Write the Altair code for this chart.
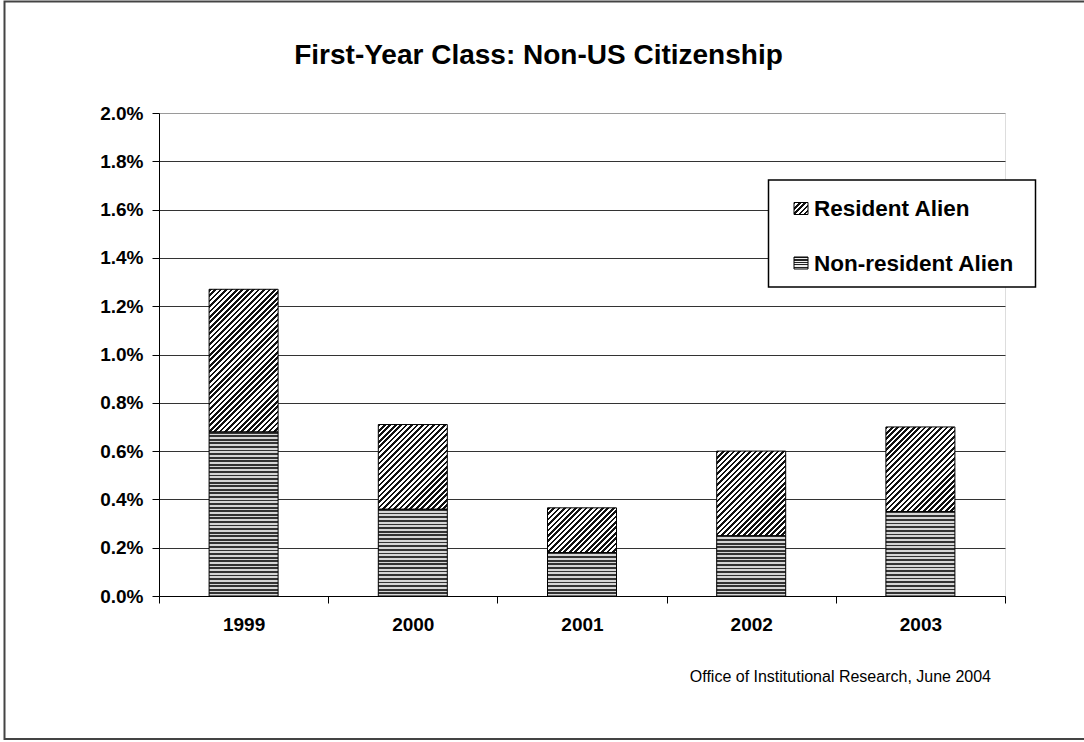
import altair as alt
import pandas as pd

# ---------------- data ----------------
years = ["1999", "2000", "2001", "2002", "2003"]
series = ["Non-resident Alien", "Resident Alien"]
nonresident = [0.68, 0.36, 0.18, 0.25, 0.35]   # percent
resident = [0.59, 0.35, 0.185, 0.35, 0.35]     # percent (stacked on top)
y_ticks = [0.0, 0.2, 0.4, 0.6, 0.8, 1.0, 1.2, 1.4, 1.6, 1.8, 2.0]
title_text = "First-Year Class: Non-US Citizenship"
source_text = "Office of Institutional Research, June 2004"

# ---------------- layout ----------------
W, H = 846, 483
LEFT, TOP = 159, 113
YMAX = 2.0
BAR = 69
FONT = "Liberation Sans"

rows = []
for i, yr in enumerate(years):
    rows.append({"year": yr, "series": series[0], "value": nonresident[i], "order": 0})
    rows.append({"year": yr, "series": series[1], "value": resident[i], "order": 1})
df = pd.DataFrame(rows)


def _stops(n, dark_frac, dark, light):
    stops = []
    for k in range(n):
        a = k / n
        b = (k + dark_frac) / n
        c = (k + 1) / n
        stops += [
            {"offset": a, "color": dark},
            {"offset": b, "color": dark},
            {"offset": b, "color": light},
            {"offset": c, "color": light},
        ]
    return stops


def hstripes(h, period=3.6, dark_frac=0.5, dark="#333333", light="#d6d6d6"):
    n = max(1, round(h / period))
    return {"gradient": "linear", "x1": 0, "y1": 0, "x2": 0, "y2": 1,
            "stops": _stops(n, dark_frac, dark, light)}


def diag(w, h, period=5.4, dark_frac=0.5, dark="#111111", light="#ffffff"):
    # "/" hatching at 45 degrees in pixel space within a bounding-box gradient
    s = (w + h) / (w * w + h * h)
    n = max(1, round((w + h) / period))
    return {"gradient": "linear", "x1": 0, "y1": 0, "x2": s * w, "y2": s * h,
            "stops": _stops(n, dark_frac, dark, light)}


x_enc = alt.X(
    "year:N",
    scale=alt.Scale(domain=years, paddingInner=0, paddingOuter=0),
    axis=alt.Axis(title=None, tickBand="extent", labelAngle=0, labelFontSize=19,
                  labelFontWeight="bold", labelFont=FONT, labelColor="black",
                  tickColor="black", tickSize=7, tickWidth=1, domainColor="black",
                  domainWidth=1, labelPadding=12, grid=False),
)
y_enc = alt.Y(
    "y0:Q",
    scale=alt.Scale(domain=[0, YMAX], nice=False),
    axis=alt.Axis(title=None, values=y_ticks,
                  labelExpr="format(datum.value, '.1f') + '%'",
                  labelFontSize=19, labelFontWeight="bold", labelFont=FONT,
                  labelColor="black", tickColor="black", tickSize=7, tickWidth=1,
                  domainColor="black", domainWidth=1, labelPadding=9,
                  grid=True, gridWidth=1,
                  gridColor={"condition": {"test": "datum.value >= 2", "value": "#9a9a9a"},
                             "value": "#333333"}),
)

base = alt.Chart(df).transform_stack(
    stack="value", groupby=["year"], as_=["y0", "y1"],
    sort=[alt.SortField(field="order", order="ascending")],
)

px_per_unit = H / YMAX
layers = []
for i, yr in enumerate(years):
    for j, s in enumerate(series):
        val = nonresident[i] if j == 0 else resident[i]
        h = val * px_per_unit
        grad = hstripes(h) if j == 0 else diag(BAR, h)
        layers.append(
            base.transform_filter((alt.datum.year == yr) & (alt.datum.series == s))
            .mark_bar(size=BAR, stroke="black", strokeWidth=1)
            .encode(x=x_enc, y=y_enc, y2="y1:Q", fill=alt.value(grad))
        )

one = pd.DataFrame({"a": [0]})

# outer frame
frame = alt.Chart(one).mark_rect(fillOpacity=0, stroke="#444444", strokeWidth=2).encode(
    x=alt.value(4.5 - LEFT), x2=alt.value(1095 - LEFT),
    y=alt.value(1.5 - TOP), y2=alt.value(739 - TOP),
)

# legend
leg_box = alt.Chart(one).mark_rect(fill="white", stroke="black", strokeWidth=1.5).encode(
    x=alt.value(768.5 - LEFT), x2=alt.value(1035.5 - LEFT),
    y=alt.value(180 - TOP), y2=alt.value(287 - TOP),
)
legend_layers = [leg_box]
legend_items = [(series[1], 208.5), (series[0], 263)]
for name, cy in legend_items:
    sym_fill = diag(14, 12, period=5.0, dark_frac=0.45) if name == series[1] else \
        hstripes(12, period=2.6, dark_frac=0.5, dark="#222222", light="#f0f0f0")
    legend_layers.append(
        alt.Chart(one).mark_rect(stroke="black", strokeWidth=1).encode(
            x=alt.value(794 - LEFT), x2=alt.value(808 - LEFT),
            y=alt.value(cy - 6 - TOP), y2=alt.value(cy + 6 - TOP),
            fill=alt.value(sym_fill),
        )
    )
    legend_layers.append(
        alt.Chart(pd.DataFrame({"t": [name]})).mark_text(
            font=FONT, fontSize=22.5, fontWeight="bold", align="left",
            baseline="middle", color="black",
        ).encode(text="t:N", x=alt.value(814 - LEFT), y=alt.value(cy + 0.5 - TOP))
    )

title = alt.Chart(pd.DataFrame({"t": [title_text]})).mark_text(
    font=FONT, fontSize=28, fontWeight="bold", align="center",
    baseline="alphabetic", color="black",
).encode(text="t:N", x=alt.value(538.5 - LEFT), y=alt.value(64 - TOP))

source = alt.Chart(pd.DataFrame({"t": [source_text]})).mark_text(
    font=FONT, fontSize=16, align="right", baseline="alphabetic", color="black",
).encode(text="t:N", x=alt.value(991 - LEFT), y=alt.value(682 - TOP))

chart = alt.layer(frame, *layers, *legend_layers, title, source).properties(
    width=W, height=H,
    autosize=alt.AutoSizeParams(type="none"),
    padding={"left": LEFT, "top": TOP, "right": 1084 - LEFT - W, "bottom": 742 - TOP - H},
).configure_view(stroke="#9a9a9a", strokeWidth=1).configure(background="white")

chart.save("out.html", embed_options={"renderer": "svg", "actions": False})
